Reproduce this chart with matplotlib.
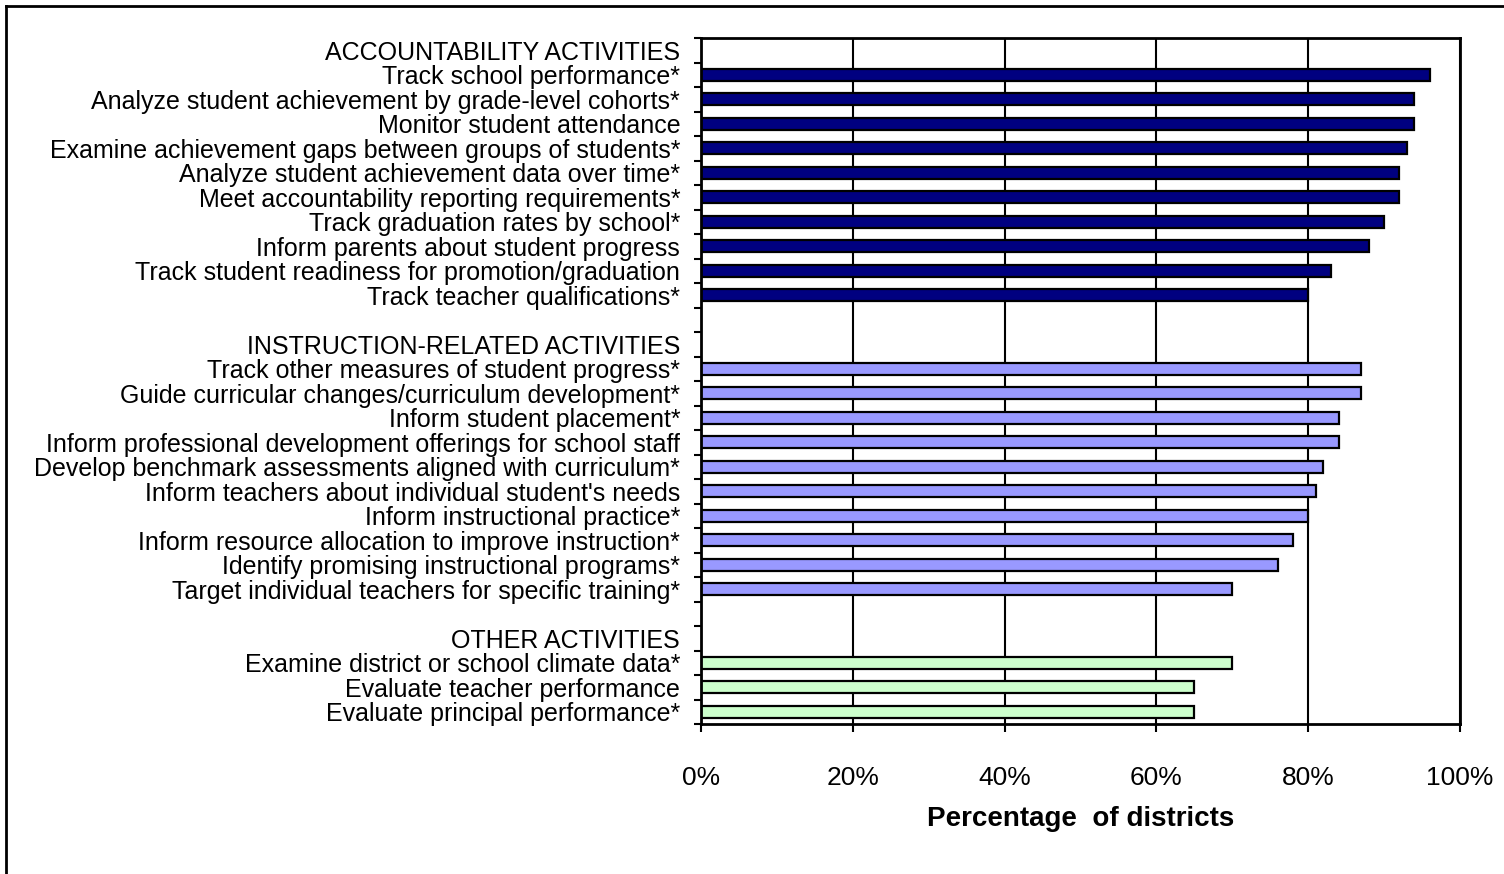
import matplotlib.pyplot as plt
import matplotlib.lines as mlines
import numpy as np

plt.rcParams['font.family'] = ['Liberation Sans', 'DejaVu Sans']

# percent of districts using data systems for each activity
accountability = ["Track school performance*",
                  "Analyze student achievement by grade-level cohorts*",
                  "Monitor student attendance",
                  "Examine achievement gaps between groups of students*",
                  "Analyze student achievement data over time*",
                  "Meet accountability reporting requirements*",
                  "Track graduation rates by school*",
                  "Inform parents about student progress",
                  "Track student readiness for promotion/graduation",
                  "Track teacher qualifications*"]
accountability_pct = [96, 94, 94, 93, 92, 92, 90, 88, 83, 80]

instruction = ["Track other measures of student progress*",
               "Guide curricular changes/curriculum development*",
               "Inform student placement*",
               "Inform professional development offerings for school staff",
               "Develop benchmark assessments aligned with curriculum*",
               "Inform teachers about individual student's needs",
               "Inform instructional practice*",
               "Inform resource allocation to improve instruction*",
               "Identify promising instructional programs*",
               "Target individual teachers for specific training*"]
instruction_pct = [87, 87, 84, 84, 82, 81, 80, 78, 76, 70]

other = ["Examine district or school climate data*",
         "Evaluate teacher performance",
         "Evaluate principal performance*"]
other_pct = [70, 65, 65]

groups = [("ACCOUNTABILITY ACTIVITIES", accountability, accountability_pct, "#000080"),
          ("INSTRUCTION-RELATED ACTIVITIES", instruction, instruction_pct, "#9999FF"),
          ("OTHER ACTIVITIES", other, other_pct, "#CCFFCC")]

# one row per header / item, with an empty row between groups
labels, vals, cols = [], [], []
for gi, (head, names, pct, c) in enumerate(groups):
    if gi > 0:
        labels.append(""); vals.append(np.nan); cols.append(c)
    labels.append(head); vals.append(np.nan); cols.append(c)
    labels += names; vals += pct; cols += [c] * len(names)

y = np.arange(len(labels))

fig = plt.figure(figsize=(15.04, 8.74), dpi=100)
ax = fig.add_axes([701/1504, 1 - 724/874, (1460-701)/1504, (724-38)/874])

ax.set_axisbelow(True)
ax.grid(axis='x', color='black', lw=1.5)
m = ~np.isnan(vals)
ax.barh(y[m], np.array(vals)[m], height=0.5, color=np.array(cols)[m],
        edgecolor='black', lw=1.6)

ax.set_xlim(0, 100)
ax.set_ylim(len(labels) - 0.5, -0.5)
ax.set_xticks(np.arange(0, 101, 20))
ax.set_xticklabels([f"{t}%" for t in range(0, 101, 20)], fontsize=19)
ax.set_yticks(y)
ax.set_yticklabels(labels, fontsize=18)
ax.set_yticks(np.arange(-0.5, len(labels)), minor=True)
ax.tick_params(axis='y', which='major', length=0, pad=15)
ax.tick_params(axis='y', which='minor', length=5, width=1.5, direction='out')
ax.tick_params(axis='x', length=6, width=1.5, pad=24)
for s in ax.spines.values():
    s.set_linewidth(2)
ax.set_xlabel("Percentage  of districts", fontsize=20, fontweight='bold', labelpad=12)

# outer frame
fig.add_artist(mlines.Line2D([6/1504, 6/1504], [0, 1 - 6/874], color='black', lw=2))
fig.add_artist(mlines.Line2D([6/1504, 1], [1 - 6/874, 1 - 6/874], color='black', lw=2))

fig.savefig("out.png", dpi=100)
